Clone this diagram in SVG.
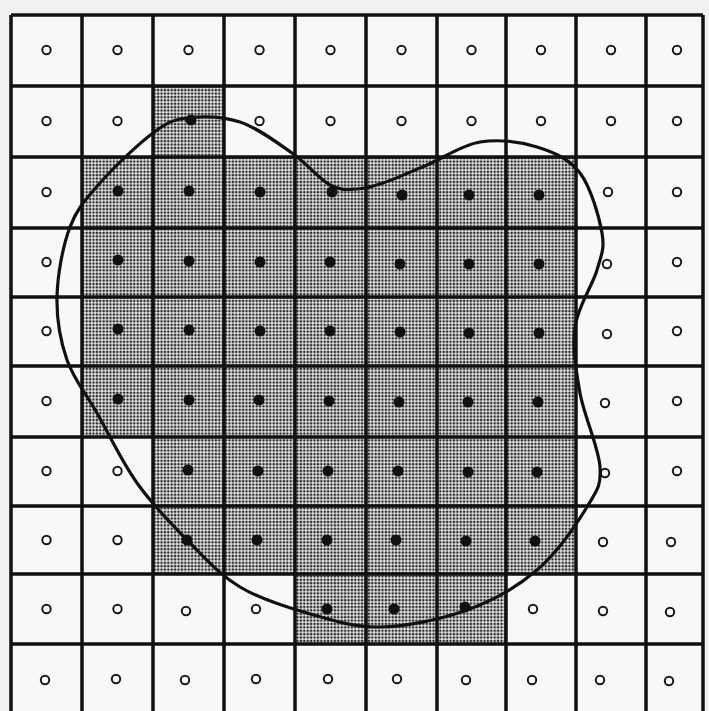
<svg xmlns="http://www.w3.org/2000/svg" width="709" height="711" viewBox="0 0 709 711">
<style>
.o{fill:#fafafa;stroke:#1a1a1a;stroke-width:2}
.d{fill:#111;stroke:none}
.g{stroke:#111;stroke-width:3.5;fill:none}
.curve{fill:none;stroke:#111;stroke-width:3.2;stroke-linejoin:round}
</style>
<defs>
<pattern id="stip" width="3.4" height="3.4" patternUnits="userSpaceOnUse">
<rect width="3.4" height="3.4" fill="#e6e6e6"/>
<circle cx="1.7" cy="1.7" r="1.3" fill="#2a2a2a"/>
</pattern>
</defs>
<rect width="709" height="711" fill="#f1f1f1"/>
<rect x="11" y="15" width="692" height="700" fill="#f8f8f8"/>
<g id="shaded">
<rect x="82" y="157" width="494" height="280" fill="url(#stip)"/>
<rect x="153" y="86" width="71" height="71" fill="url(#stip)"/>
<rect x="153" y="437" width="423" height="137" fill="url(#stip)"/>
<rect x="295" y="574" width="211" height="70" fill="url(#stip)"/>
</g>
<g id="grid" class="g">
<path d="M11 15V715M82 15V715M153 15V715M224 15V715M295 15V715M366 15V715M437 15V715M506 15V715M576 15V715M646 15V715M703 15V715"/>
<path d="M11 15H703M11 86H703M11 157H703M11 228H703M11 297H703M11 366H703M11 437H703M11 506H703M11 574H703M11 644H703"/>
</g>
<g id="hollow">
<circle class="o" r="4.2" cx="46.5" cy="50"/><circle class="o" r="4.2" cx="117.5" cy="50"/><circle class="o" r="4.2" cx="188.5" cy="50"/><circle class="o" r="4.2" cx="259.5" cy="50"/><circle class="o" r="4.2" cx="330.5" cy="50"/><circle class="o" r="4.2" cx="401.5" cy="50"/><circle class="o" r="4.2" cx="471.5" cy="50"/><circle class="o" r="4.2" cx="541" cy="50"/><circle class="o" r="4.2" cx="611" cy="50"/><circle class="o" r="4.2" cx="677" cy="50"/>
<circle class="o" r="4.2" cx="46.5" cy="121"/><circle class="o" r="4.2" cx="117.5" cy="121"/><circle class="o" r="4.2" cx="259.5" cy="121"/><circle class="o" r="4.2" cx="330.5" cy="121"/><circle class="o" r="4.2" cx="401.5" cy="121"/><circle class="o" r="4.2" cx="471.5" cy="121"/><circle class="o" r="4.2" cx="541" cy="121"/><circle class="o" r="4.2" cx="611" cy="121"/><circle class="o" r="4.2" cx="677" cy="121"/>
<circle class="o" r="4.2" cx="46.5" cy="192"/><circle class="o" r="4.2" cx="608" cy="192"/><circle class="o" r="4.2" cx="677" cy="192"/>
<circle class="o" r="4.2" cx="46.5" cy="262"/><circle class="o" r="4.2" cx="607" cy="264"/><circle class="o" r="4.2" cx="677" cy="262"/>
<circle class="o" r="4.2" cx="46.5" cy="331"/><circle class="o" r="4.2" cx="607" cy="334"/><circle class="o" r="4.2" cx="677" cy="331"/>
<circle class="o" r="4.2" cx="46.5" cy="401"/><circle class="o" r="4.2" cx="605" cy="403"/><circle class="o" r="4.2" cx="677" cy="401"/>
<circle class="o" r="4.2" cx="46.5" cy="471"/><circle class="o" r="4.2" cx="117.5" cy="471"/><circle class="o" r="4.2" cx="605" cy="473"/><circle class="o" r="4.2" cx="677" cy="471"/>
<circle class="o" r="4.2" cx="46.5" cy="540"/><circle class="o" r="4.2" cx="117.5" cy="540"/><circle class="o" r="4.2" cx="603" cy="542"/><circle class="o" r="4.2" cx="671" cy="542"/>
<circle class="o" r="4.2" cx="46.5" cy="609"/><circle class="o" r="4.2" cx="117.5" cy="609"/><circle class="o" r="4.2" cx="186" cy="611"/><circle class="o" r="4.2" cx="256" cy="609"/><circle class="o" r="4.2" cx="533" cy="609"/><circle class="o" r="4.2" cx="603" cy="611"/><circle class="o" r="4.2" cx="670" cy="612"/>
<circle class="o" r="4.2" cx="45" cy="680"/><circle class="o" r="4.2" cx="116" cy="679"/><circle class="o" r="4.2" cx="185" cy="680"/><circle class="o" r="4.2" cx="256" cy="679"/><circle class="o" r="4.2" cx="328" cy="679"/><circle class="o" r="4.2" cx="397" cy="679"/><circle class="o" r="4.2" cx="466" cy="680"/><circle class="o" r="4.2" cx="532" cy="680"/><circle class="o" r="4.2" cx="600" cy="680"/><circle class="o" r="4.2" cx="669" cy="681"/>
</g>
<g id="filled">
<circle class="d" r="5.5" cx="191" cy="120"/>
<circle class="d" r="5.5" cx="118" cy="191"/><circle class="d" r="5.5" cx="189" cy="191"/><circle class="d" r="5.5" cx="260" cy="192"/><circle class="d" r="5.5" cx="332" cy="192"/><circle class="d" r="5.5" cx="402" cy="195"/><circle class="d" r="5.5" cx="469" cy="195"/><circle class="d" r="5.5" cx="539" cy="195"/>
<circle class="d" r="5.5" cx="118" cy="260"/><circle class="d" r="5.5" cx="189" cy="261"/><circle class="d" r="5.5" cx="260" cy="262"/><circle class="d" r="5.5" cx="330" cy="262"/><circle class="d" r="5.5" cx="400" cy="264"/><circle class="d" r="5.5" cx="469" cy="264"/><circle class="d" r="5.5" cx="539" cy="264"/>
<circle class="d" r="5.5" cx="118" cy="329"/><circle class="d" r="5.5" cx="189" cy="330"/><circle class="d" r="5.5" cx="260" cy="331"/><circle class="d" r="5.5" cx="330" cy="331"/><circle class="d" r="5.5" cx="400" cy="332"/><circle class="d" r="5.5" cx="469" cy="333"/><circle class="d" r="5.5" cx="539" cy="333"/>
<circle class="d" r="5.5" cx="118" cy="399"/><circle class="d" r="5.5" cx="189" cy="400"/><circle class="d" r="5.5" cx="259" cy="400"/><circle class="d" r="5.5" cx="329" cy="401"/><circle class="d" r="5.5" cx="399" cy="402"/><circle class="d" r="5.5" cx="468" cy="402"/><circle class="d" r="5.5" cx="538" cy="402"/>
<circle class="d" r="5.5" cx="188" cy="470"/><circle class="d" r="5.5" cx="258" cy="471"/><circle class="d" r="5.5" cx="328" cy="471"/><circle class="d" r="5.5" cx="398" cy="471"/><circle class="d" r="5.5" cx="468" cy="472"/><circle class="d" r="5.5" cx="537" cy="472"/>
<circle class="d" r="5.5" cx="187" cy="540"/><circle class="d" r="5.5" cx="257" cy="540"/><circle class="d" r="5.5" cx="327" cy="540"/><circle class="d" r="5.5" cx="396" cy="540"/><circle class="d" r="5.5" cx="466" cy="541"/><circle class="d" r="5.5" cx="535" cy="541"/>
<circle class="d" r="5.5" cx="327" cy="609"/><circle class="d" r="5.5" cx="394" cy="609"/><circle class="d" r="5.5" cx="465" cy="607"/>
</g>
<g id="boundary">
<path class="curve" d="M187 118C201.5 116.2 222.5 116.2 240 122C257.5 127.8 277 142.5 292 153C307 163.5 319.2 179 330 185C340.8 191 348.2 189.3 357 189C365.8 188.7 371.3 187 383 183C394.7 179 410.8 171.8 427 165C443.2 158.2 461.7 145 480 142C498.3 139 520.3 141.8 537 147C553.7 152.2 569.2 158.7 580 173C590.8 187.3 599.2 216.8 602 233C604.8 249.2 601.5 254.3 597 270C592.5 285.7 577.8 306.5 575 327C572.2 347.5 575.8 369.7 580 393C584.2 416.3 598.8 448 600 467C601.2 486 597.5 489.8 587 507C576.5 524.2 557 552.8 537 570C517 587.2 493.2 600.5 467 610C440.8 619.5 406.7 626.5 380 627C353.3 627.5 330.3 619.7 307 613C283.7 606.3 259.5 598.7 240 587C220.5 575.3 207.2 560.3 190 543C172.8 525.7 152.5 504.7 137 483C121.5 461.3 108.7 433.5 97 413C85.3 392.5 73.7 379.3 67 360C60.3 340.7 56.5 319.2 57 297C57.5 274.8 62.8 246 70 227C77.2 208 86.2 198.7 100 183C113.8 167.3 138.5 143.8 153 133C167.5 122.2 172.5 119.8 187 118Z"/>
</g>
</svg>
